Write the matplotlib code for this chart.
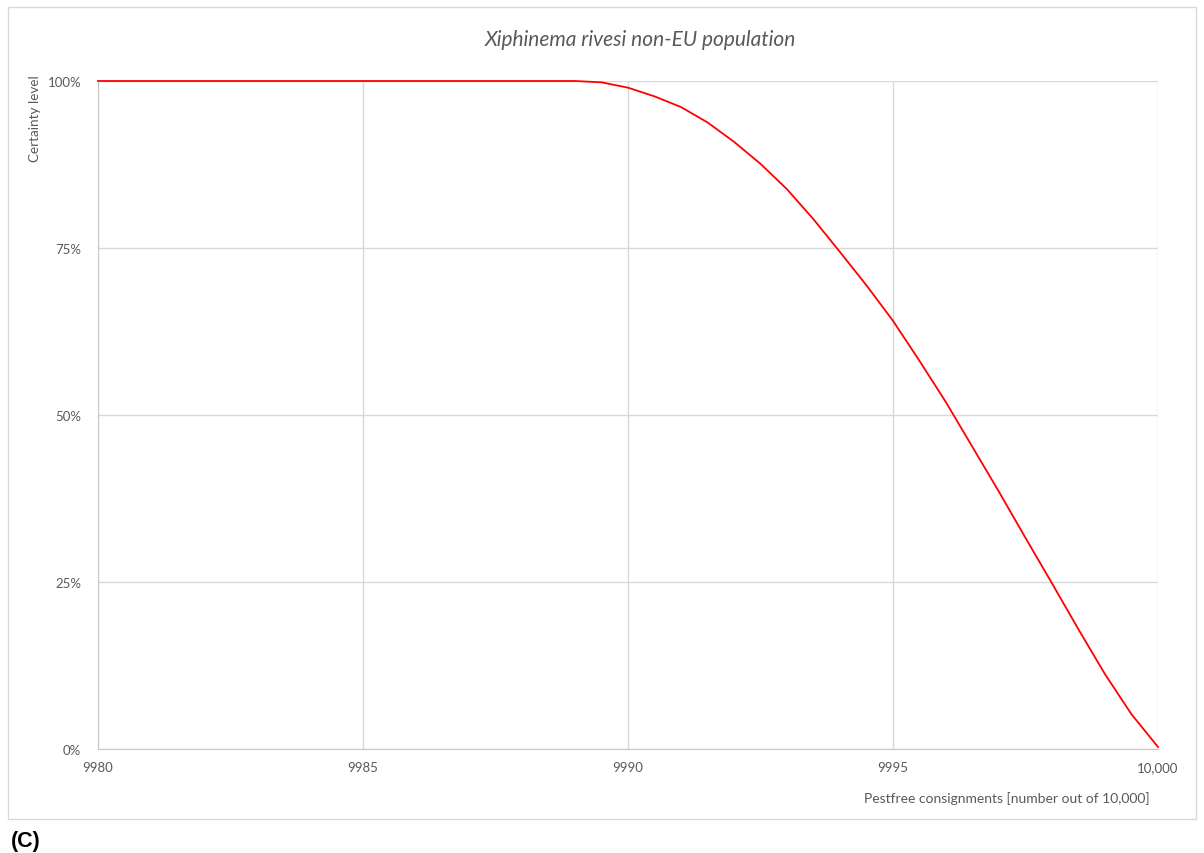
import matplotlib
matplotlib.use("Agg")
import matplotlib.pyplot as plt
from matplotlib.patches import Rectangle
from matplotlib.ticker import FuncFormatter

# =====================================================
# DATA
# =====================================================

consignments = [9980, 9981, 9982, 9983, 9984, 9985, 9986, 9987, 9988, 9989,
                9989.5, 9990, 9990.5, 9991, 9991.5, 9992, 9992.5, 9993,
                9993.5, 9994, 9994.5, 9995, 9995.5, 9996, 9996.5, 9997,
                9997.5, 9998, 9998.5, 9999, 9999.5, 10000]

certainty = [100, 100, 100, 100, 100, 100, 100, 100, 100, 100,
             99.8, 99.0, 97.7, 96.1, 93.8, 90.9, 87.6, 83.8,
             79.3, 74.4, 69.4, 64.1, 58.1, 51.9, 45.2, 38.5,
             31.6, 24.8, 17.9, 11.2, 5.2, 0.3]

x_ticks = [9980, 9985, 9990, 9995, 10000]
y_ticks = [0, 25, 50, 75, 100]

title = "Xiphinema rivesi non-EU population"
x_label = "Pestfree consignments [number out of 10,000]"
y_label = "Certainty level"

# =====================================================
# STYLE
# =====================================================

plt.rcParams["font.family"] = ["Lato", "DejaVu Sans"]
text_grey = "#595959"
grid_grey = "#d9d9d9"

fig = plt.figure(figsize=(12.04, 8.54), dpi=100)

# chart frame
fig.patches.append(Rectangle((8 / 1204, 1 - 820 / 854), 1188 / 1204, 812 / 854,
                             transform=fig.transFigure, fill=False,
                             edgecolor=grid_grey, linewidth=1))

ax = fig.add_axes([98 / 1204, 1 - 750 / 854, 1060 / 1204, 668 / 854])

ax.plot(consignments, certainty, color="#ff0000", linewidth=1.3,
        clip_on=False, zorder=3, solid_joinstyle="round")

ax.set_xlim(9980, 10000)
ax.set_ylim(0, 100)
ax.set_xticks(x_ticks)
ax.set_yticks(y_ticks)
ax.xaxis.set_major_formatter(FuncFormatter(lambda v, p: f"{int(v):,}" if v >= 10000 else f"{int(v)}"))
ax.yaxis.set_major_formatter(FuncFormatter(lambda v, p: f"{int(v)}%"))

ax.grid(True, color=grid_grey, linewidth=1)
ax.set_axisbelow(True)
ax.tick_params(length=0, labelsize=9.5, colors=text_grey)
ax.tick_params(axis="x", pad=9)
ax.tick_params(axis="y", pad=12)

for side in ["top", "right"]:
    ax.spines[side].set_visible(False)
for side in ["left", "bottom"]:
    ax.spines[side].set_color("#c8c8c8")

fig.text(640 / 1204, 1 - 40 / 854, title, ha="center", va="center",
         fontsize=15, style="italic", color=text_grey)

fig.text(35 / 1204, 1 - 75 / 854, y_label, rotation=90, ha="center", va="top",
         fontsize=9.7, color=text_grey)

fig.text(1150 / 1204, 1 - 799 / 854, x_label, ha="right", va="center",
         fontsize=10, color=text_grey)

fig.text(11 / 1204, 1 - 842 / 854, "(C)", ha="left", va="center",
         fontsize=15.5, fontweight="bold", family=["Liberation Sans", "DejaVu Sans"],
         color="black")

fig.savefig("out.png", dpi=100)
